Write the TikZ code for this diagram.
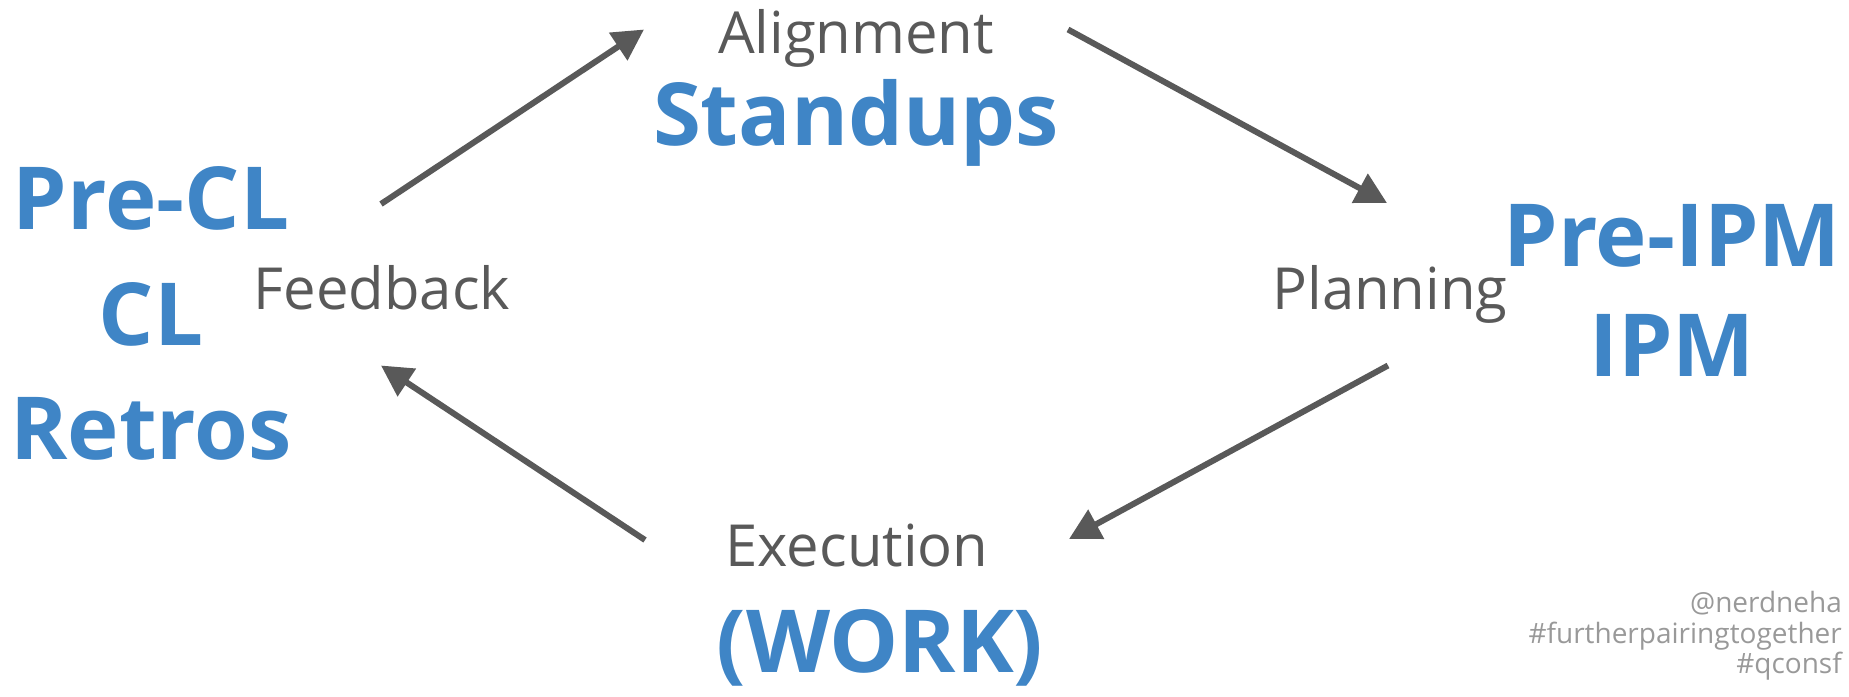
\documentclass[tikz,border=0pt]{standalone}
\usepackage{fontspec}
\setmainfont{Open Sans}
\usetikzlibrary{arrows.meta}
\definecolor{cblue}{HTML}{3F85C6}
\definecolor{cgray}{HTML}{595959}
\definecolor{clight}{HTML}{999999}
\tikzset{
  phase/.style={anchor=base, inner sep=0pt, text=cgray, font=\fontsize{58}{58}\selectfont},
  ritual/.style={anchor=base, inner sep=0pt, text=cblue, font=\fontsize{87}{87}\selectfont\bfseries},
  handle/.style={anchor=base east, inner sep=0pt, text=clight, font=\fontsize{28}{28}\selectfont},
  flow/.style={draw=cgray, line width=6pt, -{Triangle[length=31pt,width=32pt]}}
}
\begin{document}
\begin{tikzpicture}[x=1pt,y=-1pt]
\useasboundingbox (0,0) rectangle (1849,696);
% phases
\node[phase] (align) at (856,53) {Alignment};
\node[phase] (feed) at (382,309) {Feedback};
\node[phase] (plan) at (1390,309) {Planning};
\node[phase] (exec) at (857,566) {Execution};
% rituals
\node[ritual] (stand) at (856,145) {Standups};
\node[ritual] (precl) at (151,229) {Pre-CL};
\node[ritual] (cl) at (151,345) {CL};
\node[ritual] (retro) at (151,459) {Retros};
\node[ritual] (preipm) at (1672,266) {Pre-IPM};
\node[ritual] (ipm) at (1672,376) {IPM};
\node[ritual] (work) at (880,672) {(WORK)};
% handles
\node[handle] (h1) at (1842,612) {@nerdneha};
\node[handle] (h2) at (1842,643) {\#furtherpairingtogether};
\node[handle] (h3) at (1842,673) {\#qconsf};
% arrow ends
\coordinate (a1s) at (381,204); \coordinate (a1e) at (644,29.5);
\coordinate (a2s) at (1068,29.5); \coordinate (a2e) at (1387,203);
\coordinate (a3s) at (1388,365.5); \coordinate (a3e) at (1069,539);
\coordinate (a4s) at (645,540); \coordinate (a4e) at (381,365.5);
\draw[flow] (a1s) -- (a1e);
\draw[flow] (a2s) -- (a2e);
\draw[flow] (a3s) -- (a3e);
\draw[flow] (a4s) -- (a4e);
\end{tikzpicture}
\end{document}
